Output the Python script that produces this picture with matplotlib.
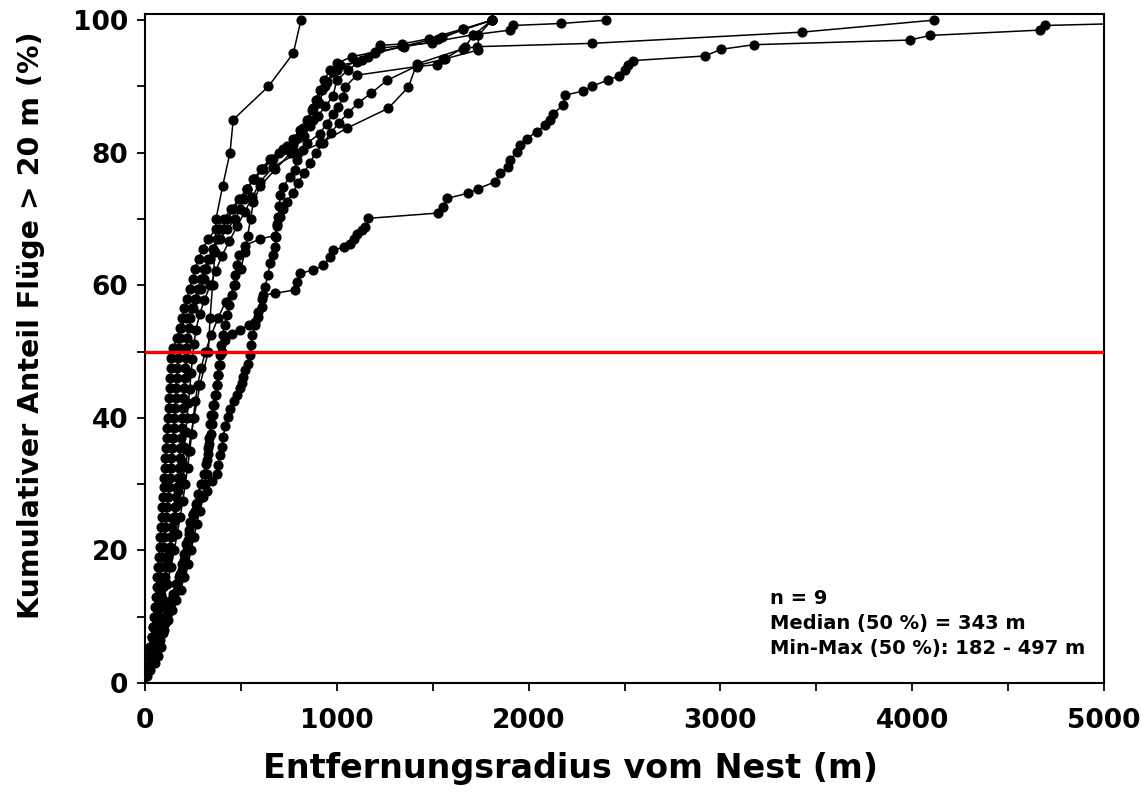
# -*- coding:utf-8 -*-
import matplotlib
matplotlib.use('Agg')
import matplotlib.pyplot as plt
from matplotlib.ticker import MultipleLocator

# distances (m) and cumulative share (%) for the nine birds
a_x = [30, 60, 95, 125, 155, 190, 225, 255, 287, 330, 339, 352, 365, 370, 405, 443, 460, 643, 773, 813]
a_y = [5, 10, 15, 20, 25, 30, 35, 40, 45, 50, 55, 60, 65, 70, 75, 80, 85, 90, 95, 100]

g_x = [5, 20, 40, 60, 80, 100, 120, 140, 160, 185, 205, 225, 240, 255, 270, 285, 300, 315, 322, 322,
       330, 335, 339, 345, 355, 365, 375, 382, 390, 400, 417, 455, 495, 540, 573, 591, 608, 617, 678, 782,
       791, 808, 877, 930, 965, 982, 1040, 1069, 1090, 1104, 1130, 1147, 1164, 1529, 1555, 1573, 1686, 1738, 1825, 1851,
       1894, 1903, 1938, 1955, 1990, 2042, 2086, 2110, 2129, 2181, 2190, 2285, 2329, 2416, 2471, 2503, 2520, 2543, 2920, 3003,
       3175, 3989, 4093, 4666, 4692, 5800]
g_y = [1, 2, 3.5, 5, 6.5, 8, 9.5, 11, 12.5, 14, 16, 18, 20, 22, 24, 26, 28, 30, 31.5, 33.6,
       35.5, 37, 39, 40.5, 42, 43.5, 45, 46.5, 48, 50, 51.7, 52.6, 53.3, 54, 54.5, 55.2, 56.8, 58.5, 58.8, 59.3,
       60.5, 61.8, 62.3, 63, 64.3, 65.3, 65.8, 66.3, 67, 67.8, 68.3, 68.8, 70.1, 70.9, 71.8, 73.1, 73.9, 74.6, 75.6, 76.9,
       77.9, 78.9, 80.1, 81.1, 82.1, 83.2, 84.2, 85, 85.9, 87.2, 88.7, 89.3, 90.0, 91.0, 91.6, 92.5, 93.2, 93.9, 94.6, 95.6,
       96.3, 97.0, 97.7, 98.5, 99.2, 100]

alpha_x = [8, 15, 22, 28, 34, 40, 45, 50, 55, 60, 64, 68, 72, 76, 80, 84, 88, 91, 94, 97,
           100, 103, 106, 109, 113, 117, 120, 123, 126, 129, 132, 135, 138, 148, 165, 182, 215, 243, 265, 290,
           305, 320, 338, 355, 390, 430, 470, 495, 515, 530, 565, 605, 650, 721, 773, 799, 825, 851, 877, 895,
           921, 947, 982, 1017, 1104, 1164, 1225, 1338, 1480, 1660, 1808]
alpha_y = [1, 2.5, 4, 5.5, 7, 8.5, 10, 11.5, 13, 14.5, 16, 17.5, 19, 20.5, 22, 23.5, 25, 26.5, 28, 29.5,
           31, 32.5, 34, 35.5, 37, 38.5, 40, 41.5, 43, 44.5, 46, 47.5, 49, 50.5, 52, 53.5, 55, 56.5, 58, 59.5,
           61, 62.5, 64, 65.5, 67, 68.5, 70, 71.5, 73, 74.5, 76, 77.5, 79, 80.4, 81.1, 82.2, 83.7, 84.9, 86.7, 87.9,
           89.4, 90.7, 92.2, 93.2, 93.7, 94.5, 96.2, 96.4, 97.2, 98.7, 100]

beta_x = [3, 10, 18, 26, 34, 42, 50, 57, 64, 70, 76, 82, 88, 94, 100, 105, 110, 115, 120, 125,
          130, 134, 138, 142, 146, 150, 153, 156, 159, 162, 165, 168, 171, 175, 180, 187, 195, 205, 218, 232,
          248, 262, 280, 300, 330, 370, 410, 450, 490, 530, 570, 610, 660, 700, 740, 780, 820, 860, 900, 940,
          980, 1000, 1060, 1130, 1225, 1338, 1495, 1529, 1660, 1808]
beta_y = [1, 2.5, 4, 5.5, 7, 8.5, 10, 11.5, 13, 14.5, 16, 17.5, 19, 20.5, 22, 23.5, 25, 26.5, 28, 29.5,
          31, 32.5, 34, 35.5, 37, 38.5, 40, 41.5, 43, 44.5, 46, 47.5, 49, 50.5, 52, 53.5, 55, 56.5, 58, 59.5,
          61, 62.5, 64, 65.5, 67, 68.5, 70, 71.5, 73, 74.5, 76, 77.5, 79, 80, 81, 82, 83, 84, 85.5, 87,
          88.5, 91, 92.5, 94, 95.8, 96.1, 96.6, 97.1, 98.6, 100]

d_x = [5, 15, 25, 35, 45, 55, 65, 75, 85, 95, 105, 113, 121, 129, 136, 143, 150, 156, 162, 167,
       172, 176, 180, 184, 188, 191, 194, 197, 200, 203, 206, 209, 212, 216, 221, 228, 237, 248, 260, 275,
       292, 310, 330, 352, 375, 400, 430, 460, 495, 530, 570, 615, 665, 720, 770, 810, 845, 870, 890, 910,
       935, 965, 1000, 1080, 1200, 1350, 1495, 1712, 1903, 1921, 2169, 2404]
d_y = [1, 2.5, 4, 5.5, 7, 8.5, 10, 11.5, 13, 14.5, 16, 17.5, 19, 20.5, 22, 23.5, 25, 26.5, 28, 29.5,
       31, 32.5, 34, 35.5, 37, 38.5, 40, 41.5, 43, 44.5, 46, 47.5, 49, 50.5, 52, 53.5, 55, 56.5, 58, 59.5,
       61, 62.5, 64, 65.5, 67, 68.5, 70, 71.5, 73, 74.5, 76, 77.5, 79, 80.5, 82, 83.5, 85, 86.5, 88, 89.5,
       91, 92.5, 93.5, 94.5, 95.2, 96, 96.7, 97.8, 98.5, 99.2, 99.5, 100]

e_x = [10, 25, 40, 55, 70, 85, 100, 115, 128, 140, 152, 163, 174, 185, 195, 204, 212, 219, 226, 233,
       240, 247, 255, 265, 285, 310, 340, 370, 400, 440, 480, 520, 560, 600, 669, 800, 912, 1052, 1268, 1373,
       1417, 1660, 1729, 2330, 3427, 4112]
e_y = [2.2, 4.4, 6.7, 8.9, 11.1, 13.3, 15.6, 17.8, 20, 22.2, 24.4, 26.7, 28.9, 31.1, 33.3, 35.6, 37.8, 40, 42.2, 44.4,
       46.7, 48.9, 51.1, 53.3, 55.6, 57.8, 60, 62.2, 64.4, 66.7, 68.9, 71.1, 73.3, 75.6, 77.9, 80, 81.4, 83.7, 86.7, 89.9,
       93.4, 95.7, 96, 96.5, 98.2, 100]

h_x = [15, 35, 55, 75, 95, 115, 135, 152, 168, 183, 197, 210, 222, 233, 243, 252, 262, 275, 292, 315,
       345, 380, 420, 470, 500, 520, 535, 550, 565, 600, 680, 760, 830, 875, 905, 940, 1000, 1200, 1550, 1808]
h_y = [2.5, 5, 7.5, 10, 12.5, 15, 17.5, 20, 22.5, 25, 27.5, 30, 32.5, 35, 37.5, 40, 42.5, 45, 47.5, 50,
       52.5, 55, 57.5, 60, 62.5, 65, 67.5, 70, 72.5, 75, 77.5, 80, 82.5, 85, 87.5, 90, 92.5, 95, 97.5, 100]

c9_x = [10, 30, 50, 70, 90, 105, 120, 135, 150, 165, 180, 192, 204, 216, 228, 240, 252, 264, 276, 290,
        305, 318, 328, 336, 343, 350, 356, 362, 368, 374, 380, 386, 392, 398, 405, 415, 428, 440, 452, 462,
        470, 478, 490, 520, 600, 678, 687, 695, 700, 705, 721, 756, 782, 791, 825, 843, 912, 947, 982, 1008,
        1034, 1043, 1104, 1417, 1521, 1564, 1668, 1712, 1808]
c9_y = [1.5, 3, 4.5, 6, 7.5, 9, 10.5, 12, 13.5, 15, 16.5, 18, 19.5, 21, 22.5, 24, 25.5, 27, 28.5, 30,
        31.5, 33, 34.5, 36, 37.5, 39, 40.5, 42, 43.5, 45, 46.5, 48, 49.5, 51, 52.5, 54, 55.5, 57, 58.5, 60,
        61.5, 63, 64.5, 66, 67, 67.5, 69, 70.3, 72, 73.6, 74.9, 76.4, 77.4, 78.9, 80.4, 81.4, 82.9, 84.4, 85.9, 86.9,
        88.4, 89.9, 91.7, 93, 93.3, 94.2, 96, 97.7, 100]

c8_x = [0, 26, 50, 69, 85, 95, 104, 112, 121, 135, 148, 160, 175, 191, 205, 217, 226, 230, 235, 250,
        261, 269, 295, 322, 348, 374, 382, 391, 400, 408, 417, 434, 443, 465, 478, 495, 504, 513, 521, 535,
        547, 552, 560, 574, 591, 610, 626, 640, 652, 665, 678, 682, 690, 704, 720, 740, 770, 800, 830, 860,
        890, 930, 970, 1010, 1060, 1110, 1180, 1260, 1425, 1555, 1738, 1738, 1808]
c8_y = [1, 2, 3, 4, 5.5, 7.5, 9, 10.5, 11.5, 12.5, 13.5, 15, 16, 17, 18.5, 20.1, 21.6, 23.1, 24.3, 25.4,
        26, 27.1, 28, 29, 30.5, 31.6, 32.9, 34.4, 35.6, 37.1, 38.7, 40.2, 41.4, 42.5, 43.5, 44.5, 45.3, 46.2, 47.2, 48.2,
        49.5, 51, 52.5, 54, 56, 58, 59.8, 61.5, 63.3, 64.5, 65.8, 67.3, 69.3, 70.3, 71.5, 72.5, 74, 75.5, 77, 78.5,
        80, 81.5, 83, 84.5, 86, 87.5, 89, 90.9, 93.2, 94.1, 95.5, 97.7, 100]

median_line = 50
info = ['n = 9', 'Median (50 %) = 343 m', 'Min-Max (50 %): 182 - 497 m']

plt.rcParams['font.family'] = ['DejaVu Sans']
plt.rcParams['font.weight'] = 'bold'

fig = plt.figure(figsize=(11.41, 8), dpi=100)
ax = fig.add_axes([0.1271, 0.14625, 0.8405, 0.836])

curves = [(a_x, a_y), (g_x, g_y), (alpha_x, alpha_y), (beta_x, beta_y), (d_x, d_y),
          (e_x, e_y), (h_x, h_y), (c9_x, c9_y), (c8_x, c8_y)]
for cx, cy in curves:
    ax.plot(cx, cy, '-o', color='black', linewidth=1.1, markersize=6.3)

ax.axhline(median_line, color='#ff0000', linewidth=2.4, zorder=5)

ax.set_xlim(0, 5000)
ax.set_ylim(0, 100.9)
ax.xaxis.set_major_locator(MultipleLocator(1000))
ax.xaxis.set_minor_locator(MultipleLocator(500))
ax.yaxis.set_major_locator(MultipleLocator(20))
ax.yaxis.set_minor_locator(MultipleLocator(10))
ax.tick_params(which='both', direction='out', width=1.3, length=6, labelsize=19)
ax.tick_params(axis='x', pad=12)
ax.tick_params(axis='y', pad=6)
for s in ax.spines.values():
    s.set_linewidth(1.5)

ax.set_xlabel('Entfernungsradius vom Nest (m)', fontsize=24, fontweight='bold')
ax.set_ylabel('Kumulativer Anteil Flüge > 20 m (%)', fontsize=20.5, fontweight='bold')
ax.xaxis.set_label_coords(0.444, -0.103)
ax.yaxis.set_label_coords(-0.104, 0.535)

ys = [0.127, 0.0897, 0.0523]
for t, yy in zip(info, ys):
    ax.text(0.652, yy, t, transform=ax.transAxes, fontsize=14, fontweight='bold', va='center')

fig.savefig('out.png', dpi=100)
